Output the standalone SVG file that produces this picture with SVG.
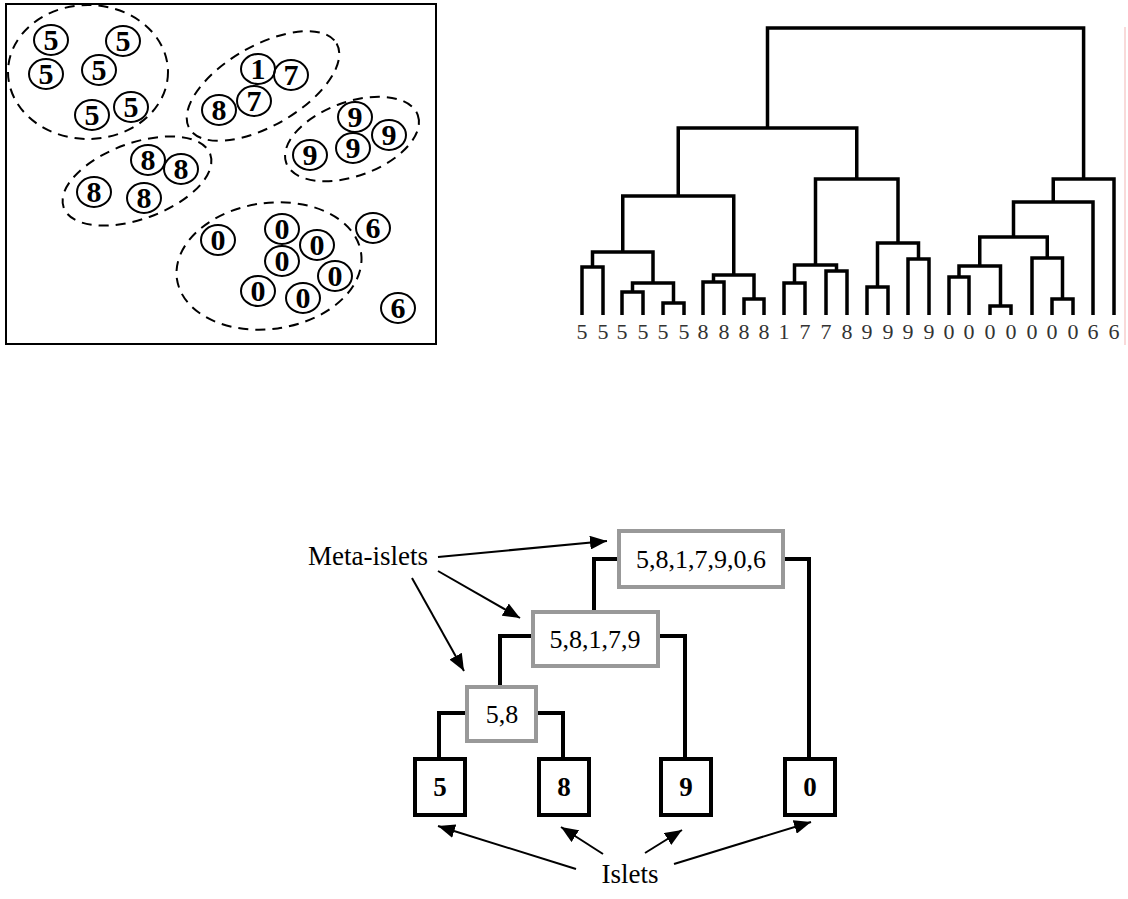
<svg xmlns="http://www.w3.org/2000/svg" width="1128" height="899" viewBox="0 0 1128 899">
<defs>
<style>
.frame{fill:none;stroke:#000;stroke-width:2}
.cl{fill:none;stroke:#000;stroke-width:2;stroke-dasharray:10 7}
.pt{fill:none;stroke:#000;stroke-width:2}
.pn{font-family:"Liberation Serif",serif;font-weight:bold;font-size:30px;text-anchor:middle}
.dl{fill:none;stroke:#000;stroke-width:3.5;stroke-linejoin:miter}
.lab{font-family:"Liberation Serif",serif;font-size:22px;text-anchor:middle;fill:#333}
.meta{fill:#fff;stroke:#999;stroke-width:4}
.isl{fill:#fff;stroke:#000;stroke-width:4}
.mt{font-family:"Liberation Serif",serif;font-size:26px;text-anchor:middle}
.it{font-family:"Liberation Serif",serif;font-weight:bold;font-size:27px;text-anchor:middle}
.tree{fill:none;stroke:#000;stroke-width:4}
.arr{fill:none;stroke:#000;stroke-width:2;marker-end:url(#ah)}
.big{font-family:"Liberation Serif",serif;font-size:27px}
</style>
<marker id="ah" markerUnits="userSpaceOnUse" markerWidth="18" markerHeight="14" refX="17" refY="7" orient="auto">
<path d="M0 0 L17 7 L0 14 Z" fill="#000"/>
</marker>
</defs>

<g id="scatter">
<rect class="frame" x="6" y="4" width="430" height="340"/>
<ellipse class="cl" cx="88" cy="72" rx="80" ry="67"/>
<ellipse class="cl" cx="263" cy="86" rx="85" ry="40" transform="rotate(-30 263 86)"/>
<ellipse class="cl" cx="352" cy="139" rx="70" ry="37" transform="rotate(-20 352 139)"/>
<ellipse class="cl" cx="137" cy="181" rx="78" ry="38" transform="rotate(-20 137 181)"/>
<ellipse class="cl" cx="269" cy="266" rx="93" ry="63" transform="rotate(-8 269 266)"/>
<g id="points">
<ellipse class="pt" cx="51" cy="40" rx="17" ry="15"/><text class="pn" x="51" y="50">5</text>
<ellipse class="pt" cx="123" cy="41" rx="17" ry="15"/><text class="pn" x="123" y="51">5</text>
<ellipse class="pt" cx="46" cy="74" rx="17" ry="15"/><text class="pn" x="46" y="84">5</text>
<ellipse class="pt" cx="99" cy="70" rx="17" ry="15"/><text class="pn" x="99" y="80">5</text>
<ellipse class="pt" cx="92" cy="115" rx="17" ry="15"/><text class="pn" x="92" y="125">5</text>
<ellipse class="pt" cx="131" cy="107" rx="17" ry="15"/><text class="pn" x="131" y="117">5</text>
<ellipse class="pt" cx="258" cy="69" rx="17" ry="15"/><text class="pn" x="258" y="79">1</text>
<ellipse class="pt" cx="291" cy="75" rx="17" ry="15"/><text class="pn" x="291" y="85">7</text>
<ellipse class="pt" cx="219" cy="110" rx="17" ry="15"/><text class="pn" x="219" y="120">8</text>
<ellipse class="pt" cx="254" cy="101" rx="17" ry="15"/><text class="pn" x="254" y="111">7</text>
<ellipse class="pt" cx="355" cy="117" rx="17" ry="15"/><text class="pn" x="355" y="127">9</text>
<ellipse class="pt" cx="389" cy="135" rx="17" ry="15"/><text class="pn" x="389" y="145">9</text>
<ellipse class="pt" cx="353" cy="148" rx="17" ry="15"/><text class="pn" x="353" y="158">9</text>
<ellipse class="pt" cx="310" cy="155" rx="17" ry="15"/><text class="pn" x="310" y="165">9</text>
<ellipse class="pt" cx="148" cy="160" rx="17" ry="15"/><text class="pn" x="148" y="170">8</text>
<ellipse class="pt" cx="181" cy="169" rx="17" ry="15"/><text class="pn" x="181" y="179">8</text>
<ellipse class="pt" cx="94" cy="192" rx="17" ry="15"/><text class="pn" x="94" y="202">8</text>
<ellipse class="pt" cx="144" cy="198" rx="17" ry="15"/><text class="pn" x="144" y="208">8</text>
<ellipse class="pt" cx="218" cy="240" rx="17" ry="15"/><text class="pn" x="218" y="250">0</text>
<ellipse class="pt" cx="282" cy="229" rx="17" ry="15"/><text class="pn" x="282" y="239">0</text>
<ellipse class="pt" cx="317" cy="245" rx="17" ry="15"/><text class="pn" x="317" y="255">0</text>
<ellipse class="pt" cx="282" cy="261" rx="17" ry="15"/><text class="pn" x="282" y="271">0</text>
<ellipse class="pt" cx="335" cy="276" rx="17" ry="15"/><text class="pn" x="335" y="286">0</text>
<ellipse class="pt" cx="258" cy="291" rx="17" ry="15"/><text class="pn" x="258" y="301">0</text>
<ellipse class="pt" cx="303" cy="298" rx="17" ry="15"/><text class="pn" x="303" y="308">0</text>
<ellipse class="pt" cx="373" cy="228" rx="17" ry="15"/><text class="pn" x="373" y="238">6</text>
<ellipse class="pt" cx="398" cy="308" rx="17" ry="15"/><text class="pn" x="398" y="318">6</text>
</g>
</g>

<g id="dendrogram">
<path class="dl" d="M582 315V267H603V315 M622 315V292H643V315 M663 315V303H684V315 M632.5 292V283H673.5V303 M592.5 267V252H653V283 M703 315V282H724V315 M744 315V299H764V315 M713.5 282V275H754V299 M622.75 252V196H733.75V275 M784 315V283H805V315 M826 315V271H847V315 M794.5 283V265H836.5V271 M867 315V287H888V315 M908 315V259H929V315 M877.5 287V243H918.5V259 M815.5 265V179H898V243 M678.25 196V128H856.75V179 M949 315V277H969V315 M990 315V306H1011V315 M959 277V266H1000.5V306 M1052 315V299H1073V315 M1032 315V258H1062.5V299 M979.75 266V237H1047.25V258 M1013.5 237V202H1093V315 M1053.25 202V179H1114V315 M767.5 128V28H1083.6V179"/>
<g>
<text class="lab" x="582" y="339">5</text><text class="lab" x="603" y="339">5</text><text class="lab" x="622" y="339">5</text><text class="lab" x="643" y="339">5</text><text class="lab" x="663" y="339">5</text><text class="lab" x="684" y="339">5</text>
<text class="lab" x="703" y="339">8</text><text class="lab" x="724" y="339">8</text><text class="lab" x="744" y="339">8</text><text class="lab" x="764" y="339">8</text>
<text class="lab" x="784" y="339">1</text><text class="lab" x="805" y="339">7</text><text class="lab" x="826" y="339">7</text><text class="lab" x="847" y="339">8</text>
<text class="lab" x="867" y="339">9</text><text class="lab" x="888" y="339">9</text><text class="lab" x="908" y="339">9</text><text class="lab" x="929" y="339">9</text>
<text class="lab" x="949" y="339">0</text><text class="lab" x="969" y="339">0</text><text class="lab" x="990" y="339">0</text><text class="lab" x="1011" y="339">0</text><text class="lab" x="1032" y="339">0</text><text class="lab" x="1052" y="339">0</text><text class="lab" x="1073" y="339">0</text>
<text class="lab" x="1093" y="339">6</text><text class="lab" x="1114" y="339">6</text>
</g>
<line x1="1125" y1="27" x2="1125" y2="345" stroke="#f2b5b5" stroke-width="1"/>
</g>

<g id="connectors">
<path class="tree" d="M619 559H594V612 M783 559H809V759 M533 636H500V687 M658 636H685V759 M467 713H439V759 M536 713H563V759"/>
<path class="arr" d="M438 557L607 541"/>
<path class="arr" d="M438 571L520 618"/>
<path class="arr" d="M412 578L464 671"/>
<path class="arr" d="M576 869L438 826"/>
<path class="arr" d="M603 854L561 827"/>
<path class="arr" d="M645 853L682 830"/>
<path class="arr" d="M674 864L811 822"/>
</g>

<g id="meta-all"><rect class="meta" x="619" y="531" width="164" height="56"/><text class="mt" x="701" y="568">5,8,1,7,9,0,6</text></g>
<g id="meta-58179"><rect class="meta" x="533" y="612" width="125" height="54"/><text class="mt" x="595" y="648">5,8,1,7,9</text></g>
<g id="meta-58"><rect class="meta" x="467" y="687" width="69" height="54"/><text class="mt" x="502" y="723">5,8</text></g>
<g id="islet-5"><rect class="isl" x="415" y="759" width="50" height="56"/><text class="it" x="440" y="796">5</text></g>
<g id="islet-8"><rect class="isl" x="539" y="759" width="50" height="56"/><text class="it" x="564" y="796">8</text></g>
<g id="islet-9"><rect class="isl" x="661" y="759" width="50" height="56"/><text class="it" x="686" y="796">9</text></g>
<g id="islet-0"><rect class="isl" x="785" y="759" width="50" height="56"/><text class="it" x="810" y="796">0</text></g>
<g id="label-meta"><text class="big" x="308" y="565">Meta-islets</text></g>
<g id="label-islets"><text class="big" x="630" y="883" text-anchor="middle">Islets</text></g>
</svg>
